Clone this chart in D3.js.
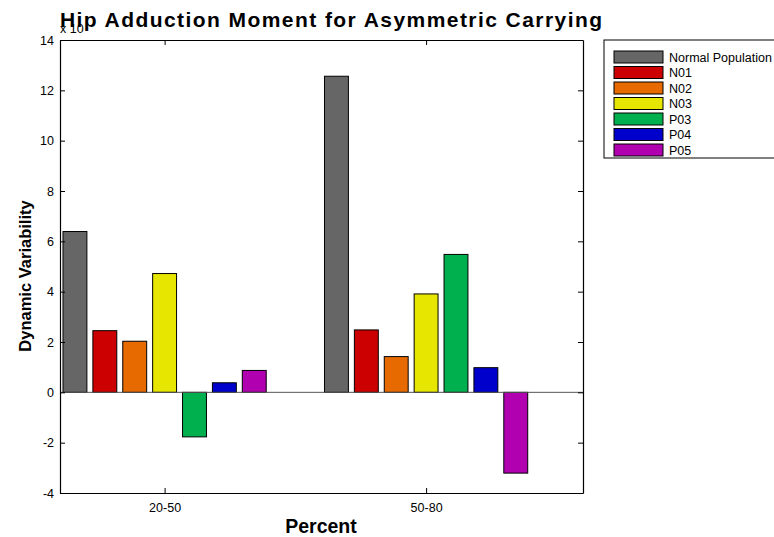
<!DOCTYPE html>
<html><head><meta charset="utf-8">
<script src="https://cdn.jsdelivr.net/npm/d3@7"></script>
<style>body{margin:0;background:#fff}svg{display:block;font-family:"Liberation Sans",Arial,sans-serif}</style>
</head><body><svg id="c" width="774" height="537"></svg>
<script>
const categories = ["20-50", "50-80"];
const seriesNames = ["Normal Population", "N01", "N02", "N03", "P03", "P04", "P05"];
const seriesColors = ["#666666", "#cc0000", "#e66a00", "#e6e600", "#00b04f", "#0000cc", "#b000b0"];
const normalPop = [6.39, 12.56];
const n01 = [2.45, 2.48];
const n02 = [2.03, 1.42];
const n03 = [4.72, 3.91];
const p03 = [-1.77, 5.48];
const p04 = [0.38, 0.98];
const p05 = [0.87, -3.21];
const yTicks = [-4, -2, 0, 2, 4, 6, 8, 10, 12, 14];

const seriesValues = [normalPop, n01, n02, n03, p03, p04, p05];
const svg = d3.select("#c");
const L = 60, R = 583, T = 40, B = 493;
const x = d3.scaleLinear().domain([0.6, 2.6]).range([L, R]);
const y = d3.scaleLinear().domain([-4, 14]).range([B, T]);
const nS = seriesNames.length;
const groupW = 0.8, step = groupW / nS, barW = step * 0.8;

// bars
seriesValues.forEach((vals, s) => {
  svg.append("g").selectAll("rect").data(vals).join("rect")
    .attr("x", (d, i) => x(i + 1 + (s - (nS - 1) / 2) * step - barW / 2))
    .attr("width", x(barW) - x(0))
    .attr("y", d => y(Math.max(0, d)))
    .attr("height", d => Math.abs(y(d) - y(0)))
    .attr("fill", seriesColors[s])
    .attr("stroke", "#000").attr("stroke-width", 1);
});
// baseline
svg.append("line").attr("x1", L).attr("x2", R).attr("y1", y(0)).attr("y2", y(0))
  .attr("stroke", "#555").attr("stroke-width", 1);

// axes
const tickFmt = d => String(d);
const gl = svg.append("g").attr("transform", `translate(${L},0)`)
  .call(d3.axisLeft(y).tickValues(yTicks).tickSizeInner(-5).tickSizeOuter(0).tickPadding(6).tickFormat(tickFmt));
const gr = svg.append("g").attr("transform", `translate(${R},0)`)
  .call(d3.axisRight(y).tickValues(yTicks).tickSizeInner(-5).tickSizeOuter(0).tickFormat(""));
const gb = svg.append("g").attr("transform", `translate(0,${B})`)
  .call(d3.axisBottom(x).tickValues([1, 2]).tickSizeInner(-5).tickSizeOuter(0).tickPadding(10).tickFormat((d, i) => categories[i]));
const gt = svg.append("g").attr("transform", `translate(0,${T})`)
  .call(d3.axisTop(x).tickValues([1, 2]).tickSizeInner(-5).tickSizeOuter(0).tickFormat(""));
[gl, gr, gb, gt].forEach(g => {
  g.select(".domain").attr("stroke", "#000").attr("stroke-width", 1.2);
  g.selectAll(".tick line").attr("stroke", "#000");
  g.selectAll("text").attr("font-family", "Liberation Sans, Arial, sans-serif").attr("font-size", 12.5).attr("fill", "#000");
});

// exponent label
svg.append("text").attr("x", 60).attr("y", 33).attr("font-size", 12.5).text("x 10");

// title
svg.append("text").attr("x", 60).attr("y", 27)
  .attr("font-size", 21).attr("font-weight", "bold")
  .attr("textLength", 542).attr("lengthAdjust", "spacing")
  .text("Hip Adduction Moment for Asymmetric Carrying");
// axis labels
svg.append("text").attr("x", 321).attr("y", 533).attr("text-anchor", "middle")
  .attr("font-size", 19.5).attr("font-weight", "bold").text("Percent");
svg.append("text").attr("transform", `translate(31,276) rotate(-90)`).attr("text-anchor", "middle")
  .attr("font-size", 16.5).attr("font-weight", "bold").text("Dynamic Variability");

// legend
const lg = svg.append("g");
lg.append("rect").attr("x", 604).attr("y", 40).attr("width", 200).attr("height", 118)
  .attr("fill", "#fff").attr("stroke", "#000").attr("stroke-width", 1);
seriesNames.forEach((n, i) => {
  const cy = 57 + i * 15.5;
  lg.append("rect").attr("x", 614).attr("y", cy - 6).attr("width", 49).attr("height", 12)
    .attr("fill", seriesColors[i]).attr("stroke", "#000").attr("stroke-width", 1);
  lg.append("text").attr("x", 669).attr("y", cy + 4.5).attr("font-size", 12.5).text(n);
});
</script></body></html>
